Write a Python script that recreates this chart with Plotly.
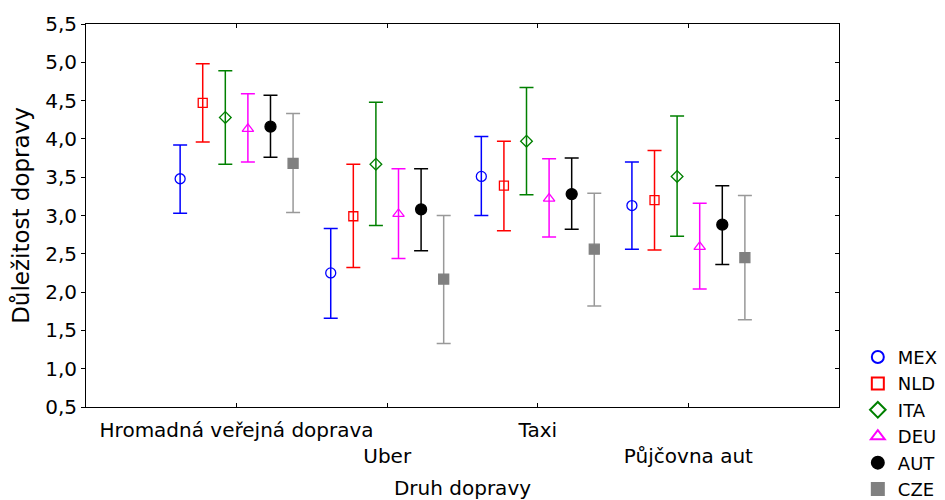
import plotly.graph_objects as go

categories = ["Hromadná veřejná doprava", "Uber", "Taxi", "Půjčovna aut"]
category_ticktext = ["Hromadná veřejná doprava", " <br>Uber", "Taxi", " <br>Půjčovna aut"]
series_names = ["MEX", "NLD", "ITA", "DEU", "AUT", "CZE"]

mex_mean = [3.48, 2.25, 3.51, 3.13]
mex_upper = [3.92, 2.83, 4.03, 3.70]
mex_lower = [3.03, 1.66, 3.00, 2.56]

nld_mean = [4.47, 2.99, 3.39, 3.20]
nld_upper = [4.98, 3.67, 3.97, 3.85]
nld_lower = [3.96, 2.32, 2.80, 2.55]

ita_mean = [4.28, 3.67, 3.97, 3.51]
ita_upper = [4.89, 4.48, 4.67, 4.30]
ita_lower = [3.67, 2.87, 3.27, 2.73]

deu_mean = [4.13, 3.02, 3.22, 2.59]
deu_upper = [4.59, 3.61, 3.74, 3.16]
deu_lower = [3.70, 2.44, 2.72, 2.04]

aut_mean = [4.16, 3.08, 3.28, 2.88]
aut_upper = [4.57, 3.61, 3.75, 3.39]
aut_lower = [3.76, 2.54, 2.82, 2.36]

cze_mean = [3.68, 2.17, 2.56, 2.45]
cze_upper = [4.33, 3.00, 3.29, 3.26]
cze_lower = [3.04, 1.33, 1.82, 1.64]

y_ticks = [0.5, 1.0, 1.5, 2.0, 2.5, 3.0, 3.5, 4.0, 4.5, 5.0, 5.5]

series = [
    ("MEX", mex_mean, mex_upper, mex_lower, "#0000FF", "#0000FF", "circle-open"),
    ("NLD", nld_mean, nld_upper, nld_lower, "#FF0000", "#FF0000", "square-open"),
    ("ITA", ita_mean, ita_upper, ita_lower, "#008000", "#008000", "diamond-open"),
    ("DEU", deu_mean, deu_upper, deu_lower, "#FF00FF", "#FF00FF", "triangle-up-open"),
    ("AUT", aut_mean, aut_upper, aut_lower, "#000000", "#000000", "circle"),
    ("CZE", cze_mean, cze_upper, cze_lower, "#999999", "#808080", "square"),
]

offsets = [-0.375, -0.225, -0.075, 0.075, 0.225, 0.375]
marker_sizes = {"circle-open": 10, "square-open": 9, "diamond-open": 9,
                "triangle-up-open": 10, "circle": 11, "square": 10}

fig = go.Figure()
for (name, mean, up, lo, bar_color, mcolor, sym), off in zip(series, offsets):
    xs = [i + 1 + off for i in range(len(categories))]
    fig.add_trace(go.Scatter(
        x=xs, y=mean, name=name, mode="markers",
        marker=dict(symbol=sym, size=marker_sizes[sym], color=mcolor,
                    line=dict(color=mcolor, width=1.3)),
        error_y=dict(type="data", symmetric=False,
                     array=[u - m for u, m in zip(up, mean)],
                     arrayminus=[m - l for m, l in zip(mean, lo)],
                     color=bar_color, thickness=1.5, width=7),
    ))

# invisible trace to carry the right-hand (inside-ticks) mirror axis
fig.add_trace(go.Scatter(x=[None], y=[None], yaxis="y2", showlegend=False, hoverinfo="skip"))

font_family = "DejaVu Sans, Liberation Sans, Arial, sans-serif"
fig.update_layout(
    width=937, height=492,
    margin=dict(l=78, r=106, t=16, b=93, autoexpand=False),
    plot_bgcolor="white", paper_bgcolor="white",
    separators=", ",
    font=dict(family=font_family, size=20, color="black"),
    showlegend=True,
    legend=dict(x=1.025, xanchor="left", y=0.178, yanchor="top",
                font=dict(size=18), tracegroupgap=0, itemsizing="constant",
                bgcolor="rgba(0,0,0,0)"),
    xaxis=dict(range=[0, 5], tickvals=[1, 2, 3, 4], ticktext=category_ticktext,
               tickangle=0,
               ticks="inside", ticklen=4, tickcolor="black",
               showline=True, linecolor="black", linewidth=1, mirror="ticks",
               showgrid=False, zeroline=False, ticklabelstandoff=5,
               title=dict(text="Druh dopravy", font=dict(size=20), standoff=14)),
    yaxis=dict(range=[0.5, 5.5], tickvals=y_ticks, tickformat=".1f",
               ticks="outside", ticklen=4, tickcolor="black",
               showline=True, linecolor="black", linewidth=1, mirror=True,
               showgrid=False, zeroline=False,
               title=dict(text="Důležitost dopravy", font=dict(size=23), standoff=9)),
    yaxis2=dict(range=[0.5, 5.5], tickvals=y_ticks, overlaying="y", side="right",
                anchor="x", ticks="inside", ticklen=4, tickcolor="black",
                showticklabels=False, showline=False, showgrid=False, zeroline=False),
)

fig.write_html("out.html")
